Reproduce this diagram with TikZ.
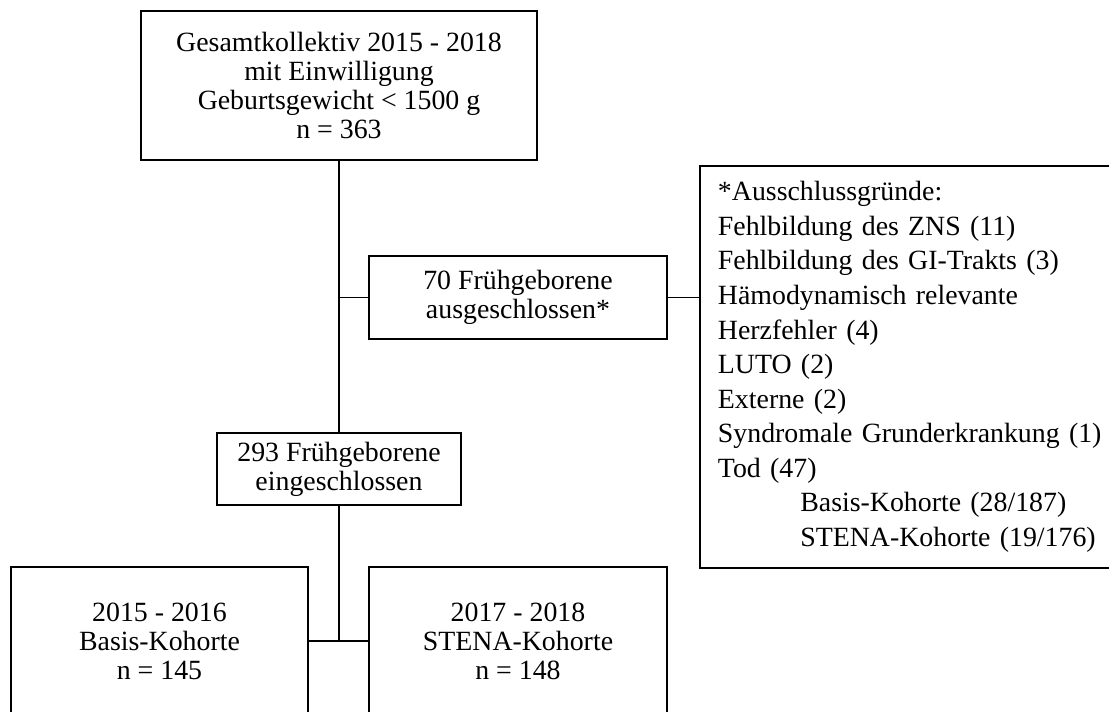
\documentclass[tikz,border=0pt]{standalone}
\usepackage{fontspec}
\setmainfont{Liberation Serif}
\usepackage{tikz}
\usetikzlibrary{positioning, calc}

\begin{document}
\begin{tikzpicture}[x=0.431pt, y=-0.431pt,
		block/.style={rectangle, draw, line width=0.75pt, align=center, inner sep=0pt, font=\fontsize{12}{12.5}\selectfont},
		liste/.style={rectangle, draw, line width=0.75pt, align=left, inner xsep=7.8pt, inner ysep=0pt, text width=166pt, font=\fontsize{12}{14.9}\selectfont},
		line/.style={draw, line width=0.75pt}]

		\useasboundingbox (0,0) rectangle (1109,711);
		\clip (0,0) rectangle (1109,711);

		\node [block, minimum width=170.7pt, minimum height=64.2pt] (gesamt) at (339,85.5) {Gesamtkollektiv 2015 - 2018\\mit Einwilligung\\Geburtsgewicht < 1500 g\\n = 363};
		\node [block, minimum width=128.4pt, minimum height=35.8pt] (aus) at (518,297.5) {70 Frühgeborene\\ausgeschlossen*};
		\node [liste, minimum height=173.3pt, anchor=north west] (gruende) at (699,165) {*Ausschlussgründe:\\Fehlbildung des ZNS (11)\\Fehlbildung des GI-Trakts (3)\\Hämodynamisch relevante\\Herzfehler (4)\\LUTO (2)\\Externe (2)\\Syndromale Grunderkrankung (1)\\Tod (47)\\\hspace*{35.5pt}Basis-Kohorte (28/187)\\\hspace*{35.5pt}STENA-Kohorte (19/176)};
		\node [block, minimum width=105.2pt, minimum height=31pt] (ein) at (339,469) {293 Frühgeborene\\eingeschlossen};
		\node [block, minimum width=128pt, minimum height=63.8pt] (basis) at (159.5,641) {2015 - 2016\\Basis-Kohorte\\n = 145};
		\node [block, minimum width=128.4pt, minimum height=63.8pt] (stena) at (518,641) {2017 - 2018\\STENA-Kohorte\\n = 148};

		\coordinate (abzweig) at (gesamt.south |- aus.west);
		\coordinate (teilung) at (ein.south |- basis.east);

		% Verbindungen
		\path [line] (gesamt) -- (ein);
		\path [line] (abzweig) -- (aus);
		\path [line] (aus.east) -- (aus.east -| gruende.west);
		\path [line] (ein) -- (teilung);
		\path [line] (teilung) -- (basis);
		\path [line] (teilung) -- (stena);

	\end{tikzpicture}
\end{document}
